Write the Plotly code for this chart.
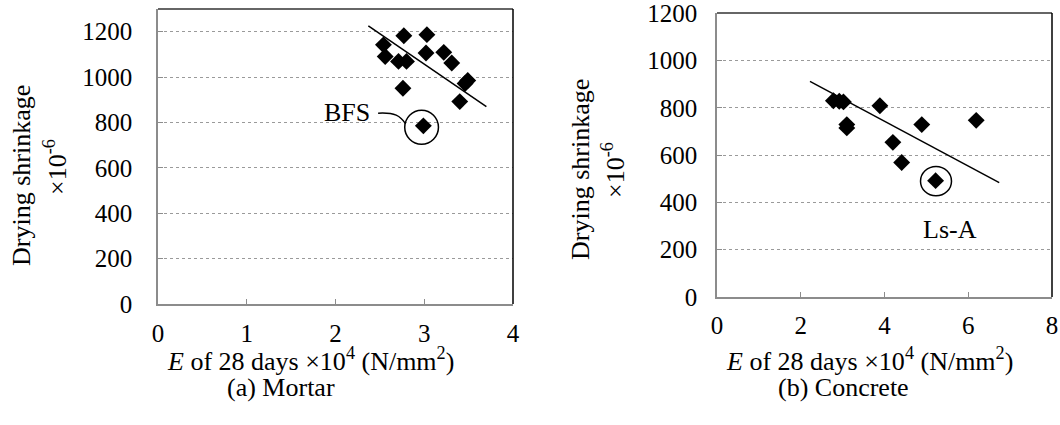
import plotly.graph_objects as go

# ---- data ----
mortar_E = [2.54, 2.56, 2.71, 2.76, 2.77, 2.80, 2.99, 3.02, 3.03, 3.22, 3.31, 3.40, 3.49, 3.46]
mortar_shrink = [1142, 1091, 1069, 951, 1182, 1069, 785, 1106, 1187, 1109, 1062, 892, 985, 972]
mortar_trend_E = [2.37, 3.70]
mortar_trend_s = [1226, 870]

concrete_E = [2.78, 2.92, 3.02, 3.10, 3.10, 3.89, 4.20, 4.41, 4.89, 5.22, 6.19]
concrete_shrink = [830, 828, 825, 729, 715, 809, 654, 569, 729, 492, 747]
concrete_trend_E = [2.22, 6.74]
concrete_trend_s = [912, 484]

y_ticks = [0, 200, 400, 600, 800, 1000, 1200]
mortar_x_ticks = [0, 1, 2, 3, 4]
concrete_x_ticks = [0, 2, 4, 6, 8]

# highlighted points: (label, E, shrinkage)
mortar_mark = ("BFS", 2.97, 779)
concrete_mark = ("Ls-A", 5.23, 490)

W, H = 1060, 425
FONT = "Liberation Serif, Times New Roman, serif"
FS_TICK = 25
FS_TXT = 26


def px(x):
    return x / W


def py(y):
    return 1 - y / H


fig = go.Figure()

fig.add_trace(go.Scatter(x=mortar_E, y=mortar_shrink, mode="markers",
                         marker=dict(symbol="diamond", size=13, color="black"),
                         xaxis="x", yaxis="y", showlegend=False))
fig.add_trace(go.Scatter(x=mortar_trend_E, y=mortar_trend_s, mode="lines",
                         line=dict(color="black", width=1.5),
                         xaxis="x", yaxis="y", showlegend=False))
fig.add_trace(go.Scatter(x=concrete_E, y=concrete_shrink, mode="markers",
                         marker=dict(symbol="diamond", size=13, color="black"),
                         xaxis="x2", yaxis="y2", showlegend=False))
fig.add_trace(go.Scatter(x=concrete_trend_E, y=concrete_trend_s, mode="lines",
                         line=dict(color="black", width=1.5),
                         xaxis="x2", yaxis="y2", showlegend=False))

axis_common = dict(showline=True, linecolor="#8c8c8c", linewidth=1.5,
                   ticks="inside", ticklen=5, tickcolor="#8c8c8c",
                   tickfont=dict(family=FONT, size=FS_TICK, color="black"),
                   zeroline=False, automargin=False, ticklabeloverflow="allow")

fig.update_layout(
    template="none",
    width=W, height=H,
    margin=dict(l=0, r=0, t=0, b=0, pad=0),
    paper_bgcolor="white", plot_bgcolor="white",
    font=dict(family=FONT, size=FS_TXT, color="black"),
    xaxis=dict(domain=[px(158), px(513)], range=[0, 4], tickvals=mortar_x_ticks,
               showgrid=False, anchor="y", ticklabelstandoff=6, **axis_common),
    yaxis=dict(domain=[py(304), py(9)], range=[0, 1300], tickvals=y_ticks,
               showgrid=True, gridcolor="#9a9a9a", griddash="dot", gridwidth=1,
               anchor="x", ticklabelstandoff=19, **axis_common),
    xaxis2=dict(domain=[px(717), px(1052)], range=[0, 8], tickvals=concrete_x_ticks,
                showgrid=False, anchor="y2", ticklabelstandoff=5, **axis_common),
    yaxis2=dict(domain=[py(297), py(13)], range=[0, 1201], tickvals=y_ticks,
                showgrid=True, gridcolor="#9a9a9a", griddash="dot", gridwidth=1,
                anchor="x2", ticklabelstandoff=13, **axis_common),
)

shapes = []
# top and right borders of both plot areas
for xr, yr in (("x domain", "y domain"), ("x2 domain", "y2 domain")):
    shapes.append(dict(type="line", xref=xr, yref=yr, x0=0, x1=1, y0=1, y1=1,
                       line=dict(color="#333333", width=1.5)))
    shapes.append(dict(type="line", xref=xr, yref=yr, x0=1, x1=1, y0=0, y1=1,
                       line=dict(color="black", width=1.5)))

# circles around highlighted points
_, mE, mS = mortar_mark
shapes.append(dict(type="circle", xref="x", yref="y",
                   x0=mE - 0.19, x1=mE + 0.19, y0=mS - 75, y1=mS + 75,
                   line=dict(color="black", width=1.5)))
_, cE, cS = concrete_mark
shapes.append(dict(type="circle", xref="x2", yref="y2",
                   x0=cE - 0.37, x1=cE + 0.37, y0=cS - 62, y1=cS + 62,
                   line=dict(color="black", width=1.5)))
# BFS leader curve
shapes.append(dict(type="path", xref="x", yref="y",
                   path=f"M {mE-0.49},{mS+62} C {mE-0.30},{mS+66} {mE-0.24},{mS+50} {mE-0.18},{mS+15}",
                   line=dict(color="black", width=1.5)))
fig.update_layout(shapes=shapes)

ann = []
ann.append(dict(text=mortar_mark[0], x=mE - 0.84, y=mS + 63, xref="x", yref="y",
                showarrow=False, font=dict(size=FS_TXT)))
ann.append(dict(text=concrete_mark[0], x=cE + 0.33, y=cS - 206, xref="x2", yref="y2",
                showarrow=False, font=dict(size=FS_TXT)))

# axis titles as annotations
for xc, yc, txt in ((22, 176, "Drying shrinkage"), (55, 167, "×10<sup>-6</sup>"),
                    (580, 170, "Drying shrinkage"), (613, 170, "×10<sup>-6</sup>")):
    ann.append(dict(text=txt, x=px(xc), y=py(yc), xref="paper", yref="paper",
                    textangle=-90, showarrow=False, xanchor="center", yanchor="middle",
                    font=dict(size=FS_TXT)))

for xc, yc, txt in ((310, 359, "<i>E</i> of 28 days ×10<sup>4</sup> (N/mm<sup>2</sup>)"),
                    (281, 387, "(a) Mortar"),
                    (869, 359, "<i>E</i> of 28 days ×10<sup>4</sup> (N/mm<sup>2</sup>)"),
                    (843, 387, "(b) Concrete")):
    ann.append(dict(text=txt, x=px(xc), y=py(yc), xref="paper", yref="paper",
                    showarrow=False, xanchor="center", yanchor="middle",
                    font=dict(size=FS_TXT)))

fig.update_layout(annotations=ann)

fig.write_html("out.html", config={"displayModeBar": False},
               post_script="document.body.style.margin='0';document.body.style.overflow='hidden';")
